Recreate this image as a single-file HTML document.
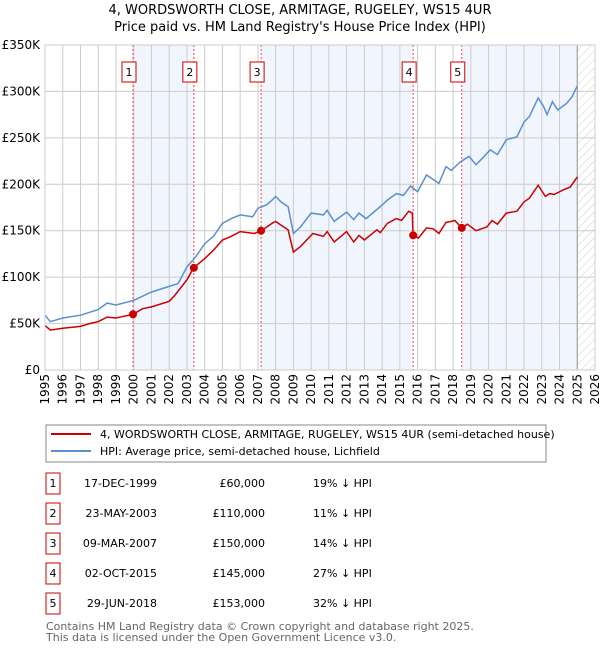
<!DOCTYPE html>
<html><head><meta charset="utf-8"><style>
body{margin:0;background:#fff;font-family:"DejaVu Sans","Liberation Sans",sans-serif;}
svg{display:block}
</style></head><body>
<svg id="c" width="600" height="650" xmlns="http://www.w3.org/2000/svg" font-family="DejaVu Sans, Liberation Sans, sans-serif">
<defs><pattern id="hatch" width="6" height="6" patternUnits="userSpaceOnUse" patternTransform="rotate(45)"><line x1="0" y1="0" x2="0" y2="6" stroke="#ccc" stroke-width="1"/></pattern></defs>
<text x="300" y="14" font-size="13" text-anchor="middle">4, WORDSWORTH CLOSE, ARMITAGE, RUGELEY, WS15 4UR</text>
<text x="300" y="31" font-size="13" text-anchor="middle">Price paid vs. HM Land Registry's House Price Index (HPI)</text>
<g id="plot"></g>
<g>
<rect x="46" y="425" width="500" height="37" fill="#fff" stroke="#888"/>
<line x1="51" y1="434" x2="91" y2="434" stroke="#cc0000" stroke-width="2"/>
<text x="100" y="438" font-size="11">4, WORDSWORTH CLOSE, ARMITAGE, RUGELEY, WS15 4UR (semi-detached house)</text>
<line x1="51" y1="451" x2="91" y2="451" stroke="#5b8fd0" stroke-width="2"/>
<text x="100" y="455" font-size="11">HPI: Average price, semi-detached house, Lichfield</text>
</g>
<g id="table"></g>
<text x="46" y="630" font-size="11" fill="#666">Contains HM Land Registry data © Crown copyright and database right 2025.</text>
<text x="46" y="641" font-size="11" fill="#666">This data is licensed under the Open Government Licence v3.0.</text>
</svg>
<script>
const hpiYears=[1995,1995.3,1996,1997,1998,1998.5,1999,2000,2001,2002,2002.5,2003,2003.5,2004,2004.5,2005,2005.5,2006,2006.7,2007,2007.5,2007.8,2008,2008.3,2008.7,2009,2009.4,2010,2010.7,2010.9,2011.3,2012,2012.4,2012.7,2013.1,2013.9,2014.3,2014.8,2015.2,2015.6,2016,2016.5,2017.2,2017.6,2017.9,2018.4,2018.9,2019.3,2020.1,2020.5,2021,2021.6,2022,2022.3,2022.8,2023.1,2023.3,2023.6,2023.9,2024.4,2024.7,2025];
const hpiValues=[59,52,56,59,65,72,70,75,84,90,93,111,122,136,144,158,163,167,165,174,178,183,187,181,176,147,154,169,167,172,160,170,162,169,163,176,183,190,188,198,192,210,201,219,215,224,230,221,237,232,248,251,267,273,293,284,275,289,280,287,294,306];
const ppYears=[1995,1995.3,1996,1997,1997.5,1998,1998.5,1999,1999.96,2000.5,2001,2002,2002.3,2003,2003.37,2004,2004.5,2005,2005.5,2006,2006.8,2007.18,2007.5,2007.8,2008,2008.3,2008.7,2009,2009.4,2010.1,2010.7,2010.9,2011.3,2012,2012.4,2012.7,2013,2013.7,2013.9,2014.3,2014.8,2015.1,2015.5,2015.7,2015.75,2016.05,2016.5,2016.9,2017.2,2017.6,2017.9,2018.1,2018.49,2018.8,2019.3,2019.9,2020.2,2020.5,2021,2021.6,2022,2022.3,2022.8,2023.2,2023.45,2023.7,2024.2,2024.6,2025];
const ppValues=[48,43,45,47,50,52,57,56,60,66,68,74,80,97,110,120,129,140,144,149,147,150,154,158,160,156,151,127,133,147,144,149,138,149,138,145,140,151,148,158,163,161,171,169,145,142,153,152,147,159,160,161,153,157,150,154,161,157,169,171,181,185,199,187,190,189,194,197,208];
const saleDates=[1999.96,2003.39,2007.18,2015.75,2018.49];
const salePrices=[60,110,150,145,153];
const saleLabels=["1","2","3","4","5"];
const saleDateText=["17-DEC-1999","23-MAY-2003","09-MAR-2007","02-OCT-2015","29-JUN-2018"];
const salePriceText=["£60,000","£110,000","£150,000","£145,000","£153,000"];
const salePctText=["19% ↓ HPI","11% ↓ HPI","14% ↓ HPI","27% ↓ HPI","32% ↓ HPI"];
const yTicks=[0,50,100,150,200,250,300,350];
const yTickLabels=["£0","£50K","£100K","£150K","£200K","£250K","£300K","£350K"];
const xTicks=[1995,1996,1997,1998,1999,2000,2001,2002,2003,2004,2005,2006,2007,2008,2009,2010,2011,2012,2013,2014,2015,2016,2017,2018,2019,2020,2021,2022,2023,2024,2025,2026];

const NS="http://www.w3.org/2000/svg";
const L=45,R=595,T=45,B=370;
const xs=y=>L+(y-1995)/(2026-1995)*(R-L);
const ys=v=>B-v/350*(B-T);
const g=document.getElementById('plot');
function mk(tag,a,p){const e=document.createElementNS(NS,tag);for(const k in a)e.setAttribute(k,a[k]);(p||g).appendChild(e);return e;}
const shadeStarts=[saleDates[0],saleDates[2],saleDates[4]];
const shadeEnds=[saleDates[1],saleDates[3],2025];
for(let i=0;i<shadeStarts.length;i++){
 const r=mk('rect',{x:xs(shadeStarts[i]),y:T,width:xs(shadeEnds[i])-xs(shadeStarts[i]),height:B-T,fill:'#eef3fd',opacity:0.8});
 
 
}
const h=mk('rect',{x:xs(2025),y:T,width:R-xs(2025),height:B-T,fill:'url(#hatch)'});


xTicks.forEach(t=>{const l=mk('line',{x1:xs(t),x2:xs(t),y1:T,y2:B,stroke:'#ccc','stroke-width':1});
 
 
 const tx=mk('text',{x:0,y:0,'font-size':12,'text-anchor':'end',transform:`translate(${xs(t)+4},${374}) rotate(-90)`});
 tx.textContent=t;
 
 
});
yTicks.forEach((t,i)=>{const l=mk('line',{x1:L,x2:R,y1:ys(t),y2:ys(t),stroke:'#ccc','stroke-width':1});
 
 
 const tx=mk('text',{x:40,y:ys(t)+4,'font-size':12,'text-anchor':'end'});
 tx.textContent=yTickLabels[i];
 
 
});
const el=mk('line',{x1:xs(2025),x2:xs(2025),y1:T,y2:B,stroke:'#999','stroke-width':1});


saleDates.forEach((d,i)=>{
 const l=mk('line',{x1:xs(d),x2:xs(d),y1:T,y2:B,stroke:'#ee4444','stroke-width':1,'stroke-dasharray':'2,2'});
 
 
 const b=mk('rect',{x:xs(d)-11,y:62,width:14,height:20,fill:'#fff',stroke:'#cc0000'});
 
 
 const t=mk('text',{x:xs(d)-4,y:76,'font-size':11,'text-anchor':'middle'});
 t.textContent=saleLabels[i];
 
 
});
const pth=(X,Y)=>X.map((x,i)=>(i?'L':'M')+xs(x).toFixed(1)+','+ys(Y[i]).toFixed(1)).join('');
const hp=mk('path',{d:pth(hpiYears,hpiValues),fill:'none',stroke:'#5b8fd0','stroke-width':1.5});


const pp=mk('path',{d:pth(ppYears,ppValues),fill:'none',stroke:'#cc0000','stroke-width':1.5});


saleDates.forEach((d,i)=>{const c=mk('circle',{cx:xs(d),cy:ys(salePrices[i]),r:4,fill:'#cc0000'});
 
 
});
const fr=mk('rect',{x:L,y:T,width:R-L,height:B-T,fill:'none',stroke:'#ccc'});


const tg=document.getElementById('table');
saleDates.forEach((d,i)=>{const cy=483+i*30;
 const b=mk('rect',{x:46,y:cy-10,width:14,height:21,fill:'#fff',stroke:'#cc0000'},tg);
 
 
 const cells=[[53,'middle',saleLabels[i]],[157,'end',saleDateText[i]],[265,'end',salePriceText[i]],[313,'start',salePctText[i]]];
 cells.forEach(c=>{const t=mk('text',{x:c[0],y:cy+4,'font-size':11,'text-anchor':c[1]},tg);t.textContent=c[2];
  
  });
});
</script>
</body></html>
